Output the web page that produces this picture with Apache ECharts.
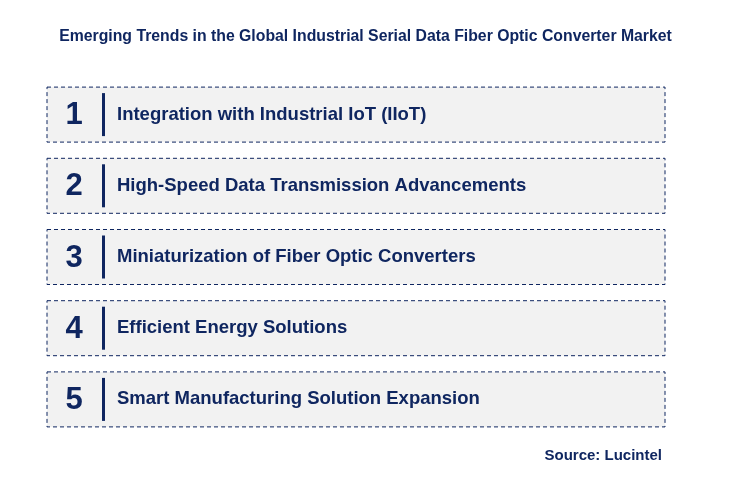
<!DOCTYPE html>
<html>
<head>
<meta charset="utf-8">
<script src="https://cdn.jsdelivr.net/npm/echarts@6/dist/echarts.min.js"></script>
<style>html,body{margin:0;padding:0;background:#fff}#main{width:731px;height:481px}</style>
</head>
<body>
<div id="main"></div>
<script>
// trends shown in the boxes, top to bottom
var ranks = ['1', '2', '3', '4', '5'];
var trends = [
	'Integration with Industrial IoT (IIoT)',
	'High-Speed Data Transmission Advancements',
	'Miniaturization of Fiber Optic Converters',
	'Efficient Energy Solutions',
	'Smart Manufacturing Solution Expansion'
];

var navy = '#0f2660';
var chart = echarts.init(document.getElementById('main'));

var option = {
	backgroundColor: '#fff',
	title: [
		{
			text: 'Emerging Trends in the Global Industrial Serial Data Fiber Optic Converter Market',
			left: 'center', top: 24,
			textStyle: {color: navy, fontSize: 15.8, fontWeight: 'bold', fontFamily: 'Arial, Liberation Sans'}
		},
		{
			text: 'Source: Lucintel',
			right: 64, top: 443,
			textStyle: {color: navy, fontSize: 15, fontWeight: 'bold', fontFamily: 'Arial, Liberation Sans'}
		}
	],
	grid: {left: 47, right: 66, top: 79, bottom: 46},
	xAxis: {type: 'value', min: 0, max: 1, show: false},
	yAxis: {type: 'category', data: ranks, inverse: true, show: false},
	series: [{
		type: 'custom',
		data: ranks.map(function (r, i) { return [0, i]; }),
		renderItem: function (params, api) {
			var i = params.dataIndex;
			var p0 = api.coord([0, i]);
			var p1 = api.coord([1, i]);
			var h = 55;
			var x = p0[0], y = p0[1] - h / 2, w = p1[0] - p0[0];
			return {
				type: 'group',
				children: [
					{type: 'rect', shape: {x: x, y: y, width: w, height: h},
						style: {fill: '#f2f2f2', stroke: navy, lineWidth: 1, lineDash: [4, 3]}},
					{type: 'text', style: {text: ranks[i], x: x + 27, y: p0[1] + 1, align: 'center', verticalAlign: 'middle',
						fill: navy, font: 'bold 31px Arial, Liberation Sans'}},
					{type: 'rect', shape: {x: x + 55, y: y + 6, width: 3, height: h - 12}, style: {fill: navy}},
					{type: 'text', style: {text: trends[i], x: x + 70, y: p0[1], align: 'left', verticalAlign: 'middle',
						fill: navy, font: 'bold 18.5px Arial, Liberation Sans'}}
				]
			};
		}
	}]
};
chart.setOption(option);
</script>
</body>
</html>
